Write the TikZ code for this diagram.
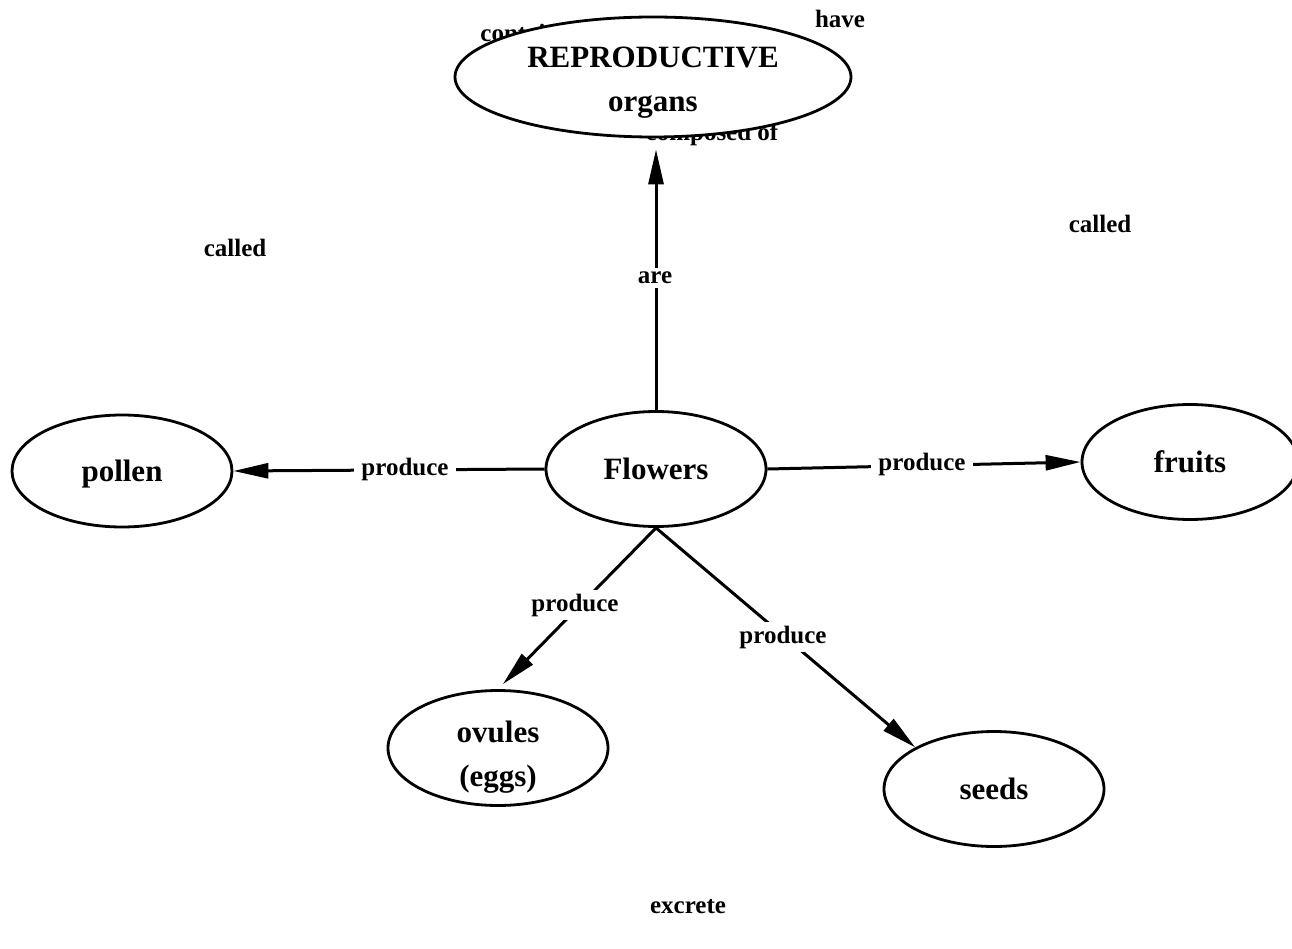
\documentclass[tikz,border=0pt]{standalone}
\usepackage{fontspec}
\setmainfont{Liberation Serif}
\usetikzlibrary{shapes.geometric,arrows.meta,calc}
% lower the ink of a line without changing its reported size
\newcommand\inkdown[2]{\raisebox{-#1}[\height][\depth]{#2}}
\begin{document}
\begin{tikzpicture}[x=1pt,y=-1pt,
  concept/.style={draw,line width=2.8pt,ellipse,fill=white,inner sep=0pt,
    minimum width=220pt,minimum height=115pt,align=center,
    font=\fontsize{31}{44}\selectfont\bfseries},
  lbl/.style={font=\fontsize{25}{28}\selectfont\bfseries,inner sep=4pt},
  elbl/.style={lbl,fill=white},
  link/.style={line width=3pt},
  arr/.style={link,-{Triangle[length=35pt,width=15pt]}}]
\useasboundingbox (0,0) rectangle (1292,949);

% labels of links whose ends are not shown
\node[lbl] (lcontain) at (520,33) {contain};
\node[lbl] (lcomposed) at (712,134) {composed of};
\node[lbl] (lhave) at (840,19) {have};
\node[lbl] (lcalledA) at (235,248) {called};
\node[lbl] (lcalledB) at (1100,224) {called};
\node[lbl] (lexcrete) at (688,907) {excrete};

% concepts
\node[concept,minimum width=396pt,minimum height=120pt] (repro) at (653,77)
  {\inkdown{6pt}{REPRODUCTIVE}\\\inkdown{6pt}{organs}};
\node[concept] (flowers) at (656,469) {Flowers};
\node[concept,minimum height=112pt] (pollen) at (122,471) {\inkdown{3pt}{pollen}};
\node[concept,minimum width=216pt] (fruits) at (1190,462) {fruits};
\node[concept] (ovules) at (498,748) {\inkdown{9pt}{ovules}\\\inkdown{9pt}{(eggs)}};
\node[concept] (seeds) at (994,789) {seeds};

% links
\draw[arr,shorten >=11pt] (flowers.north) -- (flowers.north |- repro.south);
\draw[arr] (flowers.west) -- (pollen.east);
\draw[arr] (flowers.east) -- (fruits.west);
\draw[arr,shorten >=7pt] (flowers.south) -- (ovules.north);
\draw[arr] (flowers.south) -- (seeds.north west);

% link labels
\node[elbl] (lare) at (655,278) {are};
\node[elbl,inner xsep=7pt] (lprodP) at (405,469) {produce};
\node[elbl,inner xsep=7pt] (lprodF) at (922,464) {produce};
\node[elbl] (lprodO) at (575,605) {produce};
\node[elbl] (lprodS) at (783,637) {produce};
\end{tikzpicture}
\end{document}
